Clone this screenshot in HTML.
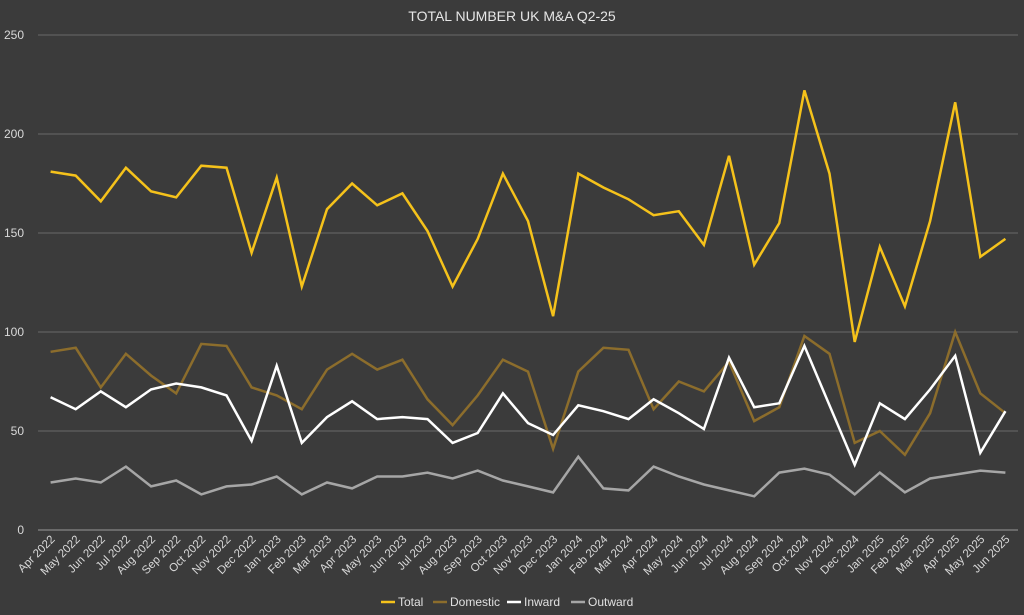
<!DOCTYPE html>
<html><head><meta charset="utf-8">
<style>
html,body{margin:0;padding:0;background:#3b3b3b;}
svg{display:block;font-family:"Liberation Sans",sans-serif;}
</style></head>
<body>
<svg id="chart" width="1024" height="615" viewBox="0 0 1024 615">
<rect x="0" y="0" width="1024" height="615" fill="#3b3b3b"/>
<text x="512" y="21" text-anchor="middle" fill="#e6e6e6" font-size="14">TOTAL NUMBER UK M&amp;A Q2-25</text>
<g id="grid"></g><g id="xlabels"></g><g id="series"></g>
<g font-size="12" fill="#e0e0e0">
<g><line x1="381" y1="602" x2="395" y2="602" stroke="#f5c21b" stroke-width="2.5"/><text x="398" y="606">Total</text></g>
<g><line x1="433" y1="602" x2="447" y2="602" stroke="#8c6d2c" stroke-width="2.5"/><text x="450" y="606">Domestic</text></g>
<g><line x1="507" y1="602" x2="521" y2="602" stroke="#ffffff" stroke-width="2.5"/><text x="524" y="606">Inward</text></g>
<g><line x1="571" y1="602" x2="585" y2="602" stroke="#a6a6a6" stroke-width="2.5"/><text x="588" y="606">Outward</text></g>
</g>
</svg>
<script>
const categories=["Apr 2022","May 2022","Jun 2022","Jul 2022","Aug 2022","Sep 2022","Oct 2022","Nov 2022","Dec 2022","Jan 2023","Feb 2023","Mar 2023","Apr 2023","May 2023","Jun 2023","Jul 2023","Aug 2023","Sep 2023","Oct 2023","Nov 2023","Dec 2023","Jan 2024","Feb 2024","Mar 2024","Apr 2024","May 2024","Jun 2024","Jul 2024","Aug 2024","Sep 2024","Oct 2024","Nov 2024","Dec 2024","Jan 2025","Feb 2025","Mar 2025","Apr 2025","May 2025","Jun 2025"];
const total=[181,179,166,183,171,168,184,183,140,178,123,162,175,164,170,151,123,147,180,156,108,180,173,167,159,161,144,189,134,155,222,180,95,143,113,156,216,138,147];
const domestic=[90,92,72,89,78,69,94,93,72,68,61,81,89,81,86,66,53,68,86,80,41,80,92,91,61,75,70,85,55,62,98,89,44,50,38,59,100,69,59];
const inward=[67,61,70,62,71,74,72,68,45,83,44,57,65,56,57,56,44,49,69,54,48,63,60,56,66,59,51,87,62,64,93,63,33,64,56,71,88,39,60];
const outward=[24,26,24,32,22,25,18,22,23,27,18,24,21,27,27,29,26,30,25,22,19,37,21,20,32,27,23,20,17,29,31,28,18,29,19,26,28,30,29];
const yTicks=[0,50,100,150,200,250];
const NS="http://www.w3.org/2000/svg";
const L=38,R=1018,T=35,B=530,YMAX=250;
const bw=(R-L)/categories.length;
const x=i=>L+bw*(i+0.5);
const y=v=>B-(v/YMAX)*(B-T);
const grid=document.getElementById('grid');
yTicks.forEach(t=>{
  const ln=document.createElementNS(NS,'line');
  
  
  ln.setAttribute('x1',L);ln.setAttribute('x2',R);ln.setAttribute('y1',y(t));ln.setAttribute('y2',y(t));
  ln.setAttribute('stroke',t===0?'#9a9a9a':'#6a6a6a');ln.setAttribute('stroke-width','1');
  grid.appendChild(ln);
  const tx=document.createElementNS(NS,'text');
  
  
  tx.setAttribute('x',24);tx.setAttribute('y',y(t)+4);tx.setAttribute('text-anchor','end');
  tx.setAttribute('fill','#d9d9d9');tx.setAttribute('font-size','12');
  tx.textContent=t;grid.appendChild(tx);
});
const xl=document.getElementById('xlabels');
categories.forEach((c,i)=>{
  const tx=document.createElementNS(NS,'text');
  
  
  const px=x(i)+5,py=540;
  tx.setAttribute('x',px);tx.setAttribute('y',py);tx.setAttribute('text-anchor','end');
  tx.setAttribute('transform','rotate(-45 '+px+' '+py+')');
  tx.setAttribute('fill','#d9d9d9');tx.setAttribute('font-size','11.5');
  tx.textContent=c;xl.appendChild(tx);
});
const sg=document.getElementById('series');
[[outward,'#a6a6a6','outward'],[domestic,'#8c6d2c','domestic'],[inward,'#ffffff','inward'],[total,'#f5c21b','total']].forEach(([d,col,n])=>{
  const p=document.createElementNS(NS,'polyline');
  
  
  p.setAttribute('points',d.map((v,i)=>x(i).toFixed(1)+','+y(v).toFixed(1)).join(' '));
  p.setAttribute('fill','none');p.setAttribute('stroke',col);p.setAttribute('stroke-width','2.5');
  p.setAttribute('stroke-linejoin','miter');
  sg.appendChild(p);
});
</script>
</body></html>
